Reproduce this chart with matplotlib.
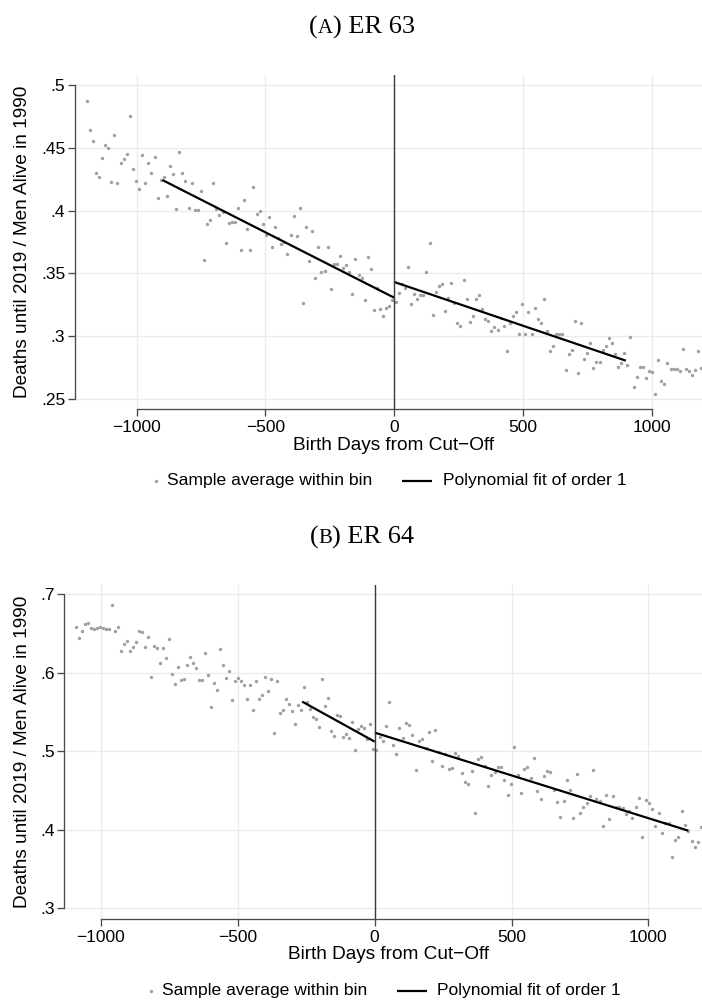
import matplotlib
matplotlib.use('Agg')
import matplotlib.pyplot as plt
from matplotlib.lines import Line2D

plt.rcParams['font.family'] = ['Liberation Sans', 'DejaVu Sans']

# ---- panel A: ER 63 (bin averages) ----
er63_left_x = [
    -1194, -1182, -1170, -1158, -1146, -1134, -1122, -1110, -1098, -1086,
    -1074, -1062, -1050, -1038, -1026, -1014, -1002, -990, -978, -966,
    -954, -942, -930, -918, -906, -894, -882, -870, -858, -846,
    -834, -822, -810, -798, -786, -774, -762, -750, -738, -726,
    -714, -702, -690, -678, -666, -654, -642, -630, -618, -606,
    -594, -582, -570, -558, -546, -534, -522, -510, -498, -486,
    -474, -462, -450, -438, -426, -414, -402, -390, -378, -366,
    -354, -342, -330, -318, -306, -294, -282, -270, -258, -246,
    -234, -222, -210, -198, -186, -174, -162, -150, -138, -126,
    -114, -102, -90, -78, -66, -54, -42, -30, -18, -6]
er63_left_y = [
    0.4875, 0.4644, 0.4554, 0.4299, 0.4265, 0.4421, 0.4520, 0.4501, 0.4230, 0.4602,
    0.4222, 0.4379, 0.4411, 0.4451, 0.4756, 0.4334, 0.4233, 0.4175, 0.4440, 0.4222,
    0.4376, 0.4299, 0.4427, 0.4100, 0.4244, 0.4268, 0.4114, 0.4358, 0.4294, 0.4013,
    0.4469, 0.4299, 0.4238, 0.4018, 0.4217, 0.4007, 0.4002, 0.4156, 0.3609, 0.3893,
    0.3925, 0.4220, 0.4015, 0.3968, 0.3992, 0.3745, 0.3904, 0.3909, 0.3912, 0.4023,
    0.3689, 0.4084, 0.3856, 0.3689, 0.4188, 0.3970, 0.4000, 0.3896, 0.3808, 0.3946,
    0.3708, 0.3872, 0.3779, 0.3737, 0.3753, 0.3652, 0.3806, 0.3960, 0.3795, 0.4018,
    0.3267, 0.3867, 0.3596, 0.3840, 0.3466, 0.3708, 0.3514, 0.3516, 0.3708, 0.3373,
    0.3572, 0.3575, 0.3639, 0.3540, 0.3564, 0.3511, 0.3339, 0.3615, 0.3487, 0.3463,
    0.3291, 0.3633, 0.3535, 0.3211, 0.3381, 0.3219, 0.3163, 0.3222, 0.3243, 0.3286]

right_x = [
    6, 18, 30, 42, 54, 66, 78, 90, 102, 114,
    126, 138, 150, 162, 174, 186, 198, 210, 222, 234,
    246, 258, 270, 282, 294, 306, 318, 330, 342, 354,
    366, 378, 390, 402, 414, 426, 438, 450, 462, 474,
    486, 498, 510, 522, 534, 546, 558, 570, 582, 594,
    606, 618, 630, 642, 654, 666, 678, 690, 702, 714,
    726, 738, 750, 762, 774, 786, 798, 810, 822, 834,
    846, 858, 870, 882, 894, 906, 918, 930, 942, 954,
    966, 978, 990, 1002, 1014, 1026, 1038, 1050, 1062, 1074,
    1086, 1098, 1110, 1122, 1134, 1146, 1158, 1170, 1182, 1194]
er63_right_y = [
    0.3270, 0.3341, 0.3418, 0.3384, 0.3554, 0.3259, 0.3339, 0.3299, 0.3331, 0.3331,
    0.3508, 0.3742, 0.3169, 0.3355, 0.3400, 0.3418, 0.3198, 0.3304, 0.3426, 0.3267,
    0.3108, 0.3079, 0.3447, 0.3296, 0.3110, 0.3158, 0.3294, 0.3331, 0.3217, 0.3140,
    0.3118, 0.3044, 0.3071, 0.3049, 0.3142, 0.3084, 0.2882, 0.3108, 0.3161, 0.3190,
    0.3015, 0.3259, 0.3015, 0.3193, 0.3015, 0.3227, 0.3140, 0.3102, 0.3299, 0.3044,
    0.2885, 0.2925, 0.3018, 0.3020, 0.3020, 0.2731, 0.2858, 0.2890, 0.3121, 0.2707,
    0.3108, 0.2816, 0.2864, 0.2943, 0.2744, 0.2797, 0.2792, 0.2890, 0.2925, 0.2983,
    0.2949, 0.2858, 0.2752, 0.2787, 0.2864, 0.2773, 0.2996, 0.2598, 0.2678, 0.2757,
    0.2752, 0.2670, 0.2720, 0.2715, 0.2542, 0.2813, 0.2643, 0.2617, 0.2784, 0.2742,
    0.2742, 0.2742, 0.2720, 0.2901, 0.2739, 0.2723, 0.2691, 0.2734, 0.2882, 0.2747]

# linear fits (end points)
er63_fit_left_x = [-900, 0]
er63_fit_left_y = [0.4244, 0.3307]
er63_fit_right_x = [0, 900]
er63_fit_right_y = [0.3432, 0.2805]

# ---- panel B: ER 64 ----
er64_left_x = [
    -1091, -1080, -1069, -1058, -1047, -1036, -1025, -1014, -1003, -992,
    -981, -970, -959, -948, -937, -926, -915, -904, -893, -882,
    -871, -860, -849, -838, -828, -817, -806, -795, -784, -773,
    -762, -751, -740, -729, -718, -707, -696, -685, -674, -663,
    -652, -641, -630, -619, -608, -597, -586, -575, -564, -554,
    -543, -532, -521, -510, -499, -488, -477, -466, -455, -444,
    -433, -422, -411, -400, -389, -378, -367, -356, -345, -334,
    -323, -312, -301, -290, -280, -269, -258, -247, -236, -225,
    -214, -203, -192, -181, -170, -159, -148, -137, -126, -115,
    -104, -93, -82, -71, -60, -49, -38, -27, -16, -5]
er64_left_y = [
    0.6584, 0.6448, 0.6537, 0.6618, 0.6639, 0.6567, 0.6558, 0.6575, 0.6584, 0.6567,
    0.6563, 0.6554, 0.6860, 0.6537, 0.6588, 0.6282, 0.6372, 0.6406, 0.6278, 0.6325,
    0.6397, 0.6533, 0.6524, 0.6333, 0.6456, 0.5943, 0.6346, 0.6316, 0.6130, 0.6316,
    0.6193, 0.6427, 0.5981, 0.5862, 0.6079, 0.5909, 0.5921, 0.6100, 0.6197, 0.6130,
    0.6066, 0.5909, 0.5909, 0.6248, 0.5972, 0.5561, 0.5870, 0.5777, 0.6308, 0.6104,
    0.5938, 0.6028, 0.5650, 0.5896, 0.5938, 0.5896, 0.5849, 0.5671, 0.5849, 0.5527,
    0.5900, 0.5671, 0.5722, 0.5943, 0.5764, 0.5926, 0.5234, 0.5896, 0.5493, 0.5522,
    0.5671, 0.5607, 0.5510, 0.5348, 0.5594, 0.5522, 0.5820, 0.5633, 0.5535, 0.5433,
    0.5416, 0.5310, 0.5921, 0.5577, 0.5675, 0.5255, 0.5191, 0.5467, 0.5454, 0.5183,
    0.5221, 0.5166, 0.5378, 0.5017, 0.5280, 0.5327, 0.5301, 0.5157, 0.5348, 0.5034]
er64_right_y = [
    0.5013, 0.5187, 0.5132, 0.5327, 0.5624, 0.5081, 0.4970, 0.5297, 0.5170, 0.5357,
    0.5340, 0.5212, 0.4762, 0.5132, 0.5161, 0.5047, 0.5251, 0.4877, 0.5272, 0.4996,
    0.4813, 0.4962, 0.4775, 0.4783, 0.4979, 0.4941, 0.4720, 0.4614, 0.4584, 0.4749,
    0.4214, 0.4902, 0.4928, 0.4813, 0.4558, 0.4703, 0.4737, 0.4800, 0.4800, 0.4631,
    0.4448, 0.4580, 0.5055, 0.4699, 0.4473, 0.4775, 0.4796, 0.4660, 0.4915, 0.4499,
    0.4393, 0.4682, 0.4749, 0.4732, 0.4507, 0.4359, 0.4168, 0.4372, 0.4635, 0.4507,
    0.4155, 0.4715, 0.4219, 0.4295, 0.4346, 0.4431, 0.4758, 0.4389, 0.4372, 0.4053,
    0.4440, 0.4138, 0.4431, 0.4287, 0.4287, 0.4282, 0.4206, 0.4244, 0.4155, 0.4295,
    0.4406, 0.3909, 0.4380, 0.4338, 0.4261, 0.4053, 0.4210, 0.3964, 0.4087, 0.4083,
    0.3658, 0.3871, 0.3913, 0.4240, 0.4066, 0.3981, 0.3858, 0.3781, 0.3841, 0.4032]

er64_fit_left_x = [-265, 0]
er64_fit_left_y = [0.5633, 0.5123]
er64_fit_right_x = [0, 1146]
er64_fit_right_y = [0.5238, 0.3989]

x_ticks = [-1000, -500, 0, 500, 1000]
x_labels = ['\u22121000', '\u2212500', '0', '500', '1000']
er63_yticks = [0.25, 0.3, 0.35, 0.4, 0.45, 0.5]
er63_ylabels = ['.25', '.3', '.35', '.4', '.45', '.5']
er64_yticks = [0.3, 0.4, 0.5, 0.6, 0.7]
er64_ylabels = ['.3', '.4', '.5', '.6', '.7']

DOT = '#a0a0a0'
AXC = '#4a4a4a'
GRID = '#ebebeb'

fig = plt.figure(figsize=(7.02, 10.01), dpi=100)


def panel(rect, xs, ys, fits, yticks, ylabels, xlim, ylim, ylab_x, xlab_pos):
    ax = fig.add_axes(rect)
    ax.set_xlim(*xlim)
    ax.set_ylim(*ylim)
    ax.grid(True, color=GRID, lw=1.0, zorder=0)
    ax.set_axisbelow(True)
    for x, y in zip(xs, ys):
        ax.scatter(x, y, s=6, color=DOT, linewidths=0, zorder=2)
    for fx, fy in fits:
        ax.plot(fx, fy, color='black', lw=1.6, zorder=3, solid_capstyle='butt')
    ax.axvline(0, color='#3a3a3a', lw=1.0, zorder=4)
    ax.set_xticks(x_ticks)
    ax.set_xticklabels(x_labels)
    ax.set_yticks(yticks)
    ax.set_yticklabels(ylabels)
    for s in ['top', 'right']:
        ax.spines[s].set_visible(False)
    ax.spines['left'].set_bounds(yticks[0], yticks[-1])
    ax.spines['bottom'].set_bounds(x_ticks[0], x_ticks[-1])
    for s in ['left', 'bottom']:
        ax.spines[s].set_color(AXC)
        ax.spines[s].set_linewidth(0.95)
    ax.tick_params(axis='both', direction='out', length=5, width=0.95,
                   color=AXC, labelsize=12.5, labelcolor='black')
    ax.tick_params(axis='x', pad=2.8)
    ax.tick_params(axis='y', pad=2.0)
    ax.set_ylabel('Deaths until 2019 / Men Alive in 1990', fontsize=13.7, va='center')
    ax.yaxis.set_label_coords(ylab_x, 0.5)
    ax.set_xlabel('Birth Days from Cut\u2212Off', fontsize=13.7, va='center')
    ax.xaxis.set_label_coords(*xlab_pos)
    return ax


panel([75 / 702, 1 - 409 / 1001, 627 / 702, 334 / 1001],
      [er63_left_x, right_x], [er63_left_y, er63_right_y],
      [(er63_fit_left_x, er63_fit_left_y), (er63_fit_right_x, er63_fit_right_y)],
      er63_yticks, er63_ylabels, (-1239, 1196), (0.242, 0.508),
      -0.0834, (0.5077, -0.1078))

panel([64.3 / 702, 1 - 919 / 1001, 637.7 / 702, 334 / 1001],
      [er64_left_x, right_x], [er64_left_y, er64_right_y],
      [(er64_fit_left_x, er64_fit_left_y), (er64_fit_right_x, er64_fit_right_y)],
      er64_yticks, er64_ylabels, (-1134, 1196), (0.2864, 0.7118),
      -0.0652, (0.509, -0.1057))


def legend_row(y_px, dot_px, text1_px, line_px, text2_px):
    y = 1 - y_px / 1001
    fig.add_artist(Line2D([dot_px / 702], [y], marker='o', ms=2.4, color=DOT,
                          mec='none', ls='none'))
    fig.text(text1_px / 702, y, 'Sample average within bin', fontsize=12.6,
             va='center', ha='left')
    fig.add_artist(Line2D([line_px[0] / 702, line_px[1] / 702], [y, y],
                          color='black', lw=1.6, solid_capstyle='butt'))
    fig.text(text2_px / 702, y, 'Polynomial fit of order 1', fontsize=12.6,
             va='center', ha='left')


legend_row(481, 156, 166.7, (401.7, 431.7), 442.7)
legend_row(991, 151, 162.3, (396.7, 426.7), 436.7)


def title(letter, rest, xc_px, base_px, size=19):
    r = fig.canvas.get_renderer()
    yb = 1 - base_px / 1001
    parts = [('(', size), (letter, size * 0.78), (') ' + rest, size)]
    texts = [fig.text(0, yb, s, fontsize=fs, family='Liberation Serif',
                      va='baseline', ha='left') for s, fs in parts]
    widths = [t.get_window_extent(r).width / fig.bbox.width for t in texts]
    x = xc_px / 702 - sum(widths) / 2
    for t, w in zip(texts, widths):
        t.set_x(x)
        x += w


title('A', 'ER 63', 362, 33.3)
title('B', 'ER 64', 362, 543.3)

fig.savefig('out.png', dpi=100)
